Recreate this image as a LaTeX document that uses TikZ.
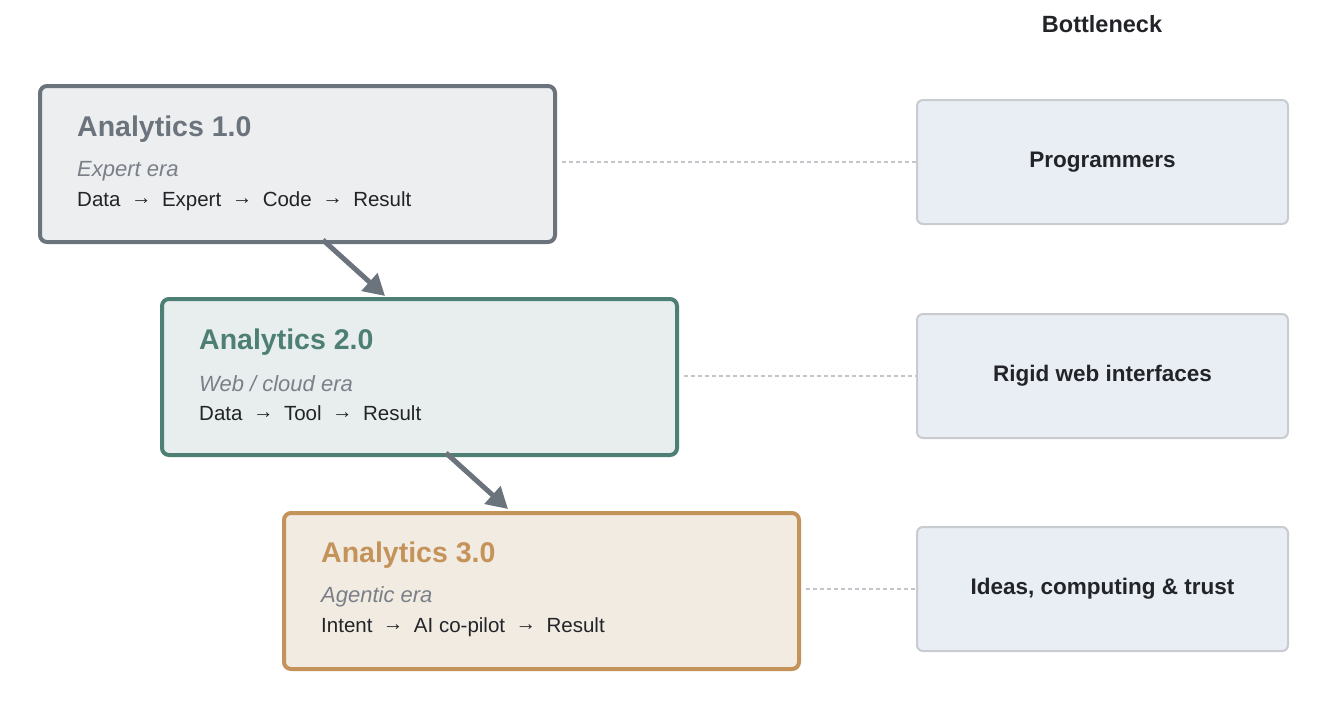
\documentclass[tikz,border=0pt]{standalone}
\usepackage{fontspec}
\setmainfont{Liberation Sans}
\newcommand\flowto{\hspace{10.5pt}\raisebox{2pt}{→}\hspace{10.5pt}}
\usetikzlibrary{arrows.meta,calc}
\definecolor{g1b}{HTML}{6B737C}
\definecolor{g1f}{HTML}{EDEEF0}
\definecolor{t2b}{HTML}{4E7F74}
\definecolor{t2f}{HTML}{E8EEEE}
\definecolor{o3b}{HTML}{C4935A}
\definecolor{o3f}{HTML}{F2EBE2}
\definecolor{rbf}{HTML}{E9EEF5}
\definecolor{rbb}{HTML}{C8CBD0}
\definecolor{subc}{HTML}{7A8088}
\definecolor{txtc}{HTML}{222428}
\definecolor{dashc}{HTML}{C2C6CB}
\tikzset{
  era/.style={draw, line width=4pt, rounded corners=7pt, minimum width=515pt, minimum height=156pt, inner sep=0pt, anchor=north west},
  neck/.style={draw=rbb, fill=rbf, line width=2pt, rounded corners=6pt, minimum width=371pt, minimum height=124pt, inner sep=0pt, anchor=north west, font=\fontsize{22.5}{26}\selectfont\bfseries, text=txtc},
  ttl/.style={anchor=west, inner sep=0pt, font=\fontsize{28.5}{33}\selectfont\bfseries},
  sub/.style={anchor=west, inner sep=0pt, font=\fontsize{22}{26}\selectfont\itshape, text=subc},
  pth/.style={anchor=west, inner sep=0pt, font=\fontsize{20.5}{24}\selectfont, text=txtc},
  flow/.style={draw=g1b, line width=5pt, -{Triangle[length=21pt,width=23pt]}},
  link/.style={draw=dashc, line width=1.5pt, dash pattern=on 4pt off 3pt},
}
\begin{document}
\begin{tikzpicture}[x=1pt,y=-1pt]
\useasboundingbox[fill=white] (0,0) rectangle (1335,702);

\node[font=\fontsize{23.5}{27}\selectfont\bfseries, text=txtc, inner sep=0pt] (hdr) at (1102,24) {Bottleneck};

\node[era, draw=g1b, fill=g1f] (b1) at (38,84) {};
\node[era, draw=t2b, fill=t2f] (b2) at (160,297) {};
\node[era, draw=o3b, fill=o3f] (b3) at (282,511) {};

\node[ttl, text=g1b] (t1) at (77,129) {Analytics 1.0};
\node[sub] (s1) at (77,171) {Expert era};
\node[pth] (p1) at (77,201) {Data\flowto Expert\flowto Code\flowto Result};

\node[ttl, text=t2b] (t2) at (199,342) {Analytics 2.0};
\node[sub] (s2) at (199,384) {Web / cloud era};
\node[pth] (p2) at (199,413) {Data\flowto Tool\flowto Result};

\node[ttl, text=o3b] (t3) at (321,555) {Analytics 3.0};
\node[sub] (s3) at (321,597) {Agentic era};
\node[pth] (p3) at (321,627) {Intent\flowto AI co-pilot\flowto Result};

\node[neck] (r1) at (916,99) {Programmers};
\node[neck] (r2) at (916,313) {Rigid web interfaces};
\node[neck] (r3) at (916,526) {Ideas, computing \& trust};

\coordinate (a1s) at (323,240);
\coordinate (a1e) at (385,296);
\coordinate (a2s) at (446,453);
\coordinate (a2e) at (508,509);
\draw[flow] (a1s) -- (a1e);
\draw[flow] (a2s) -- (a2e);

\draw[link] ([xshift=5pt]b1.east |- r1.west) -- (r1.west);
\draw[link] ([xshift=5pt]b2.east |- r2.west) -- (r2.west);
\draw[link] ([xshift=5pt]b3.east |- r3.west) -- (r3.west);
\end{tikzpicture}
\end{document}
